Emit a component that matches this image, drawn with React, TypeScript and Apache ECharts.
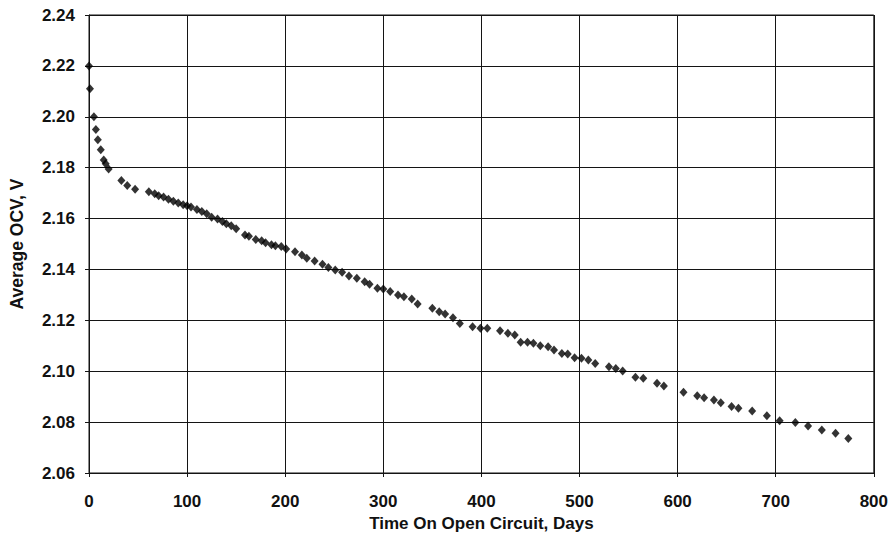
import React, { useEffect, useRef } from "react";
import * as echarts from "echarts";

const days = [
  0, 1, 5, 7, 9, 12, 15, 17, 20, 33, 39, 47, 61, 67, 71, 76, 81, 86, 91, 96,
  100, 104, 110, 115, 120, 125, 131, 136, 140, 145, 150, 159, 163, 170, 176,
  180, 186, 190, 196, 201, 210, 217, 222, 230, 238, 244, 251, 258, 265, 273,
  281, 286, 294, 300, 307, 315, 321, 329, 335, 350, 357, 363, 371, 378, 391,
  399, 406, 419, 427, 434, 440, 447, 453, 460, 468, 474, 482, 488, 495, 502,
  509, 516, 530, 537, 544, 557, 565, 579, 586, 606, 620, 627, 637, 644, 655,
  662, 676, 691, 704, 720, 733, 747, 761, 774,
];

const ocv = [
  2.22, 2.211, 2.2, 2.195, 2.191, 2.187, 2.183, 2.1815, 2.1795, 2.175, 2.173,
  2.1715, 2.1705, 2.1697, 2.169, 2.1685, 2.1676, 2.1668, 2.1661, 2.1654,
  2.165, 2.1645, 2.1636, 2.1628, 2.1619, 2.1605, 2.1598, 2.1588, 2.158,
  2.1572, 2.156, 2.1535, 2.153, 2.1518, 2.1513, 2.1505, 2.1497, 2.1493, 2.149,
  2.148, 2.147, 2.1457, 2.1444, 2.1433, 2.142, 2.1408, 2.1398, 2.1389, 2.1374,
  2.1365, 2.1352, 2.1342, 2.1326, 2.1323, 2.1313, 2.13, 2.1293, 2.1284,
  2.1264, 2.1247, 2.1234, 2.1225, 2.121, 2.1188, 2.1175, 2.1169, 2.1169,
  2.1159, 2.1149, 2.1142, 2.1114, 2.1114, 2.111, 2.11, 2.1096, 2.1083, 2.107,
  2.1068, 2.1053, 2.1051, 2.1044, 2.103, 2.1018, 2.1011, 2.1001, 2.0976,
  2.0972, 2.0953, 2.0942, 2.0917, 2.0904, 2.0896, 2.0887, 2.0876, 2.0861,
  2.0854, 2.0844, 2.0825, 2.0805, 2.0798, 2.0785, 2.0769, 2.0756, 2.0736,
];

const xTitle = "Time On Open Circuit, Days";
const yTitle = "Average OCV, V";

export default function App() {
  const ref = useRef<HTMLDivElement>(null);
  useEffect(() => {
    if (!ref.current) return;
    const chart = echarts.init(ref.current, null, { renderer: "svg" });
    const font = "'Liberation Sans', Arial, sans-serif";
    const lineColor = "#141414";
    chart.setOption({
      animation: false,
      backgroundColor: "#ffffff",
      grid: {
        left: 88,
        right: 16,
        top: 15,
        bottom: 69,
        show: true,
        borderColor: lineColor,
        borderWidth: 1,
      },
      xAxis: {
        type: "value",
        min: 0,
        max: 800,
        interval: 100,
        name: xTitle,
        nameLocation: "middle",
        nameGap: 42,
        nameTextStyle: {
          fontFamily: font,
          fontWeight: "bold",
          fontSize: 17,
          color: "#111",
        },
        axisLine: { show: true, lineStyle: { color: lineColor, width: 1 } },
        axisTick: { show: true, length: 4, lineStyle: { color: lineColor } },
        axisLabel: {
          margin: 20,
          fontFamily: font,
          fontWeight: "bold",
          fontSize: 17,
          color: "#111",
        },
        splitLine: { show: true, lineStyle: { color: lineColor, width: 1 } },
      },
      yAxis: {
        type: "value",
        min: 2.06,
        max: 2.24,
        interval: 0.02,
        name: yTitle,
        nameLocation: "middle",
        nameRotate: 90,
        nameGap: 63,
        nameTextStyle: {
          fontFamily: font,
          fontWeight: "bold",
          fontSize: 17.5,
          color: "#111",
        },
        axisLine: { show: true, lineStyle: { color: lineColor, width: 1 } },
        axisTick: { show: true, length: 4, lineStyle: { color: lineColor } },
        axisLabel: {
          margin: 14,
          fontFamily: font,
          fontWeight: "bold",
          fontSize: 17,
          color: "#111",
          formatter: (v: number) => v.toFixed(2),
        },
        splitLine: { show: true, lineStyle: { color: lineColor, width: 1 } },
      },
      series: [
        {
          type: "scatter",
          data: days.map((d, i) => [d, ocv[i]]),
          symbol: "diamond",
          symbolSize: [8, 9],
          itemStyle: { color: "#000000" },
        },
      ],
    });
    return () => chart.dispose();
  }, []);
  return (
    <div
      ref={ref}
      style={{ position: "fixed", left: 0, top: 0, width: 891, height: 542 }}
    />
  );
}
